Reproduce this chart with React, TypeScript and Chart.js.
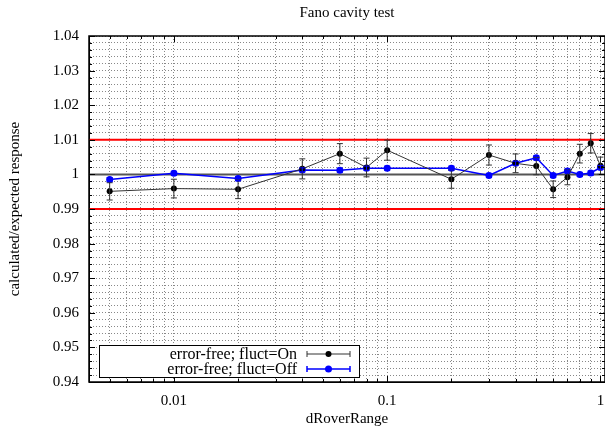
import React, { useEffect, useRef } from 'react';
import { Chart, registerables } from 'chart.js';

Chart.register(...registerables);

const TITLE = 'Fano cavity test';
const X_TITLE = 'dRoverRange';
const Y_TITLE = 'calculated/expected response';

const X_VALUES = [0.005, 0.01, 0.02, 0.04, 0.06, 0.08, 0.1, 0.2, 0.3, 0.4, 0.5, 0.6, 0.7, 0.8, 0.9, 1.0];

const ON_LABEL = 'error-free; fluct=On';
const ON_VALUES = [0.9951, 0.9959, 0.9957, 1.0016, 1.006, 1.002, 1.007, 0.9986, 1.0056, 1.0032, 1.0024, 0.9957, 0.9992, 1.006, 1.009, 1.0025];
const ON_ERRORS = [0.0025, 0.0027, 0.0027, 0.0029, 0.0029, 0.0027, 0.0029, 0.0026, 0.0029, 0.0027, 0.0025, 0.0024, 0.0022, 0.0027, 0.0028, 0.0025];

const OFF_LABEL = 'error-free; fluct=Off';
const OFF_VALUES = [0.9985, 1.0003, 0.9988, 1.0013, 1.0012, 1.0018, 1.0018, 1.0018, 0.9997, 1.0032, 1.0048, 0.9997, 1.001, 1.0, 1.0004, 1.002];
const OFF_ERRORS = [0.0006, 0.0006, 0.0006, 0.0006, 0.0006, 0.0006, 0.0006, 0.0006, 0.0006, 0.0006, 0.0006, 0.0006, 0.0006, 0.0006, 0.0006, 0.0006];

const X_MIN = 0.004;
const X_MAX = 1.05;
const X_TICKS = [
  0.004, 0.005, 0.006, 0.007, 0.008, 0.009,
  0.01, 0.02, 0.03, 0.04, 0.05, 0.06, 0.07, 0.08, 0.09,
  0.1, 0.2, 0.3, 0.4, 0.5, 0.6, 0.7, 0.8, 0.9,
  1,
];
const X_MAJOR = [0.01, 0.1, 1];

const Y_MIN = 0.94;
const Y_MAX = 1.04;
const Y_MINOR_STEP = 0.002;

const RED_LIMITS = [0.99, 1.01];
const UNITY = [1.0];

const FONT = 'Liberation Serif';

function yTicks() {
  const out: number[] = [];
  const n = Math.round((Y_MAX - Y_MIN) / Y_MINOR_STEP);
  for (let i = 0; i <= n; i++) out.push(Math.round((Y_MIN + i * Y_MINOR_STEP) * 1000) / 1000);
  return out;
}
function yIsMajor(v: number) {
  return Math.round(v * 1000) % 10 === 0;
}
function yLabel(v: number) {
  return yIsMajor(v) ? String(Math.round(v * 100) / 100) : '';
}

const errorBarPlugin = {
  id: 'errorBars',
  afterDatasetsDraw(chart: any) {
    const ctx = chart.ctx;
    const ys = chart.scales.y;
    chart.data.datasets.forEach((ds: any, di: number) => {
      if (!ds.errors) return;
      const meta = chart.getDatasetMeta(di);
      ctx.save();
      ctx.strokeStyle = ds.borderColor;
      ctx.lineWidth = 1;
      meta.data.forEach((pt: any, i: number) => {
        const v = ds.data[i].y;
        const e = ds.errors[i];
        const y1 = ys.getPixelForValue(v + e);
        const y2 = ys.getPixelForValue(v - e);
        const x = pt.x;
        ctx.beginPath();
        ctx.moveTo(x, y1);
        ctx.lineTo(x, y2);
        ctx.moveTo(x - 3, y1);
        ctx.lineTo(x + 3, y1);
        ctx.moveTo(x - 3, y2);
        ctx.lineTo(x + 3, y2);
        ctx.stroke();
      });
      ctx.restore();
    });
  },
};

const refLinesPlugin = {
  id: 'refLines',
  beforeDatasetsDraw(chart: any) {
    const { ctx, chartArea } = chart;
    const ys = chart.scales.y;
    ctx.save();
    ctx.setLineDash([]);
    ctx.lineWidth = 2;
    ctx.strokeStyle = '#ff0000';
    RED_LIMITS.forEach((v) => {
      const y = ys.getPixelForValue(v);
      ctx.beginPath();
      ctx.moveTo(chartArea.left, y);
      ctx.lineTo(chartArea.right, y);
      ctx.stroke();
    });
    ctx.strokeStyle = '#555555';
    UNITY.forEach((v) => {
      const y = ys.getPixelForValue(v);
      ctx.beginPath();
      ctx.moveTo(chartArea.left, y);
      ctx.lineTo(chartArea.right, y);
      ctx.stroke();
    });
    ctx.restore();
  },
};

const framePlugin = {
  id: 'frame',
  afterDraw(chart: any) {
    const { ctx, chartArea } = chart;
    const { left, right, top, bottom } = chartArea;
    const xs = chart.scales.x;
    const ys = chart.scales.y;
    ctx.save();
    ctx.setLineDash([]);
    ctx.strokeStyle = '#000';
    ctx.lineWidth = 1;
    ctx.beginPath();
    xs.ticks.forEach((t: any) => {
      const x = Math.round(xs.getPixelForValue(t.value)) + 0.5;
      const len = X_MAJOR.includes(t.value) ? 6 : 3;
      ctx.moveTo(x, bottom);
      ctx.lineTo(x, bottom - len);
      ctx.moveTo(x, top);
      ctx.lineTo(x, top + len);
    });
    ys.ticks.forEach((t: any) => {
      const y = Math.round(ys.getPixelForValue(t.value)) + 0.5;
      const len = yIsMajor(t.value) ? 6 : 3;
      ctx.moveTo(left, y);
      ctx.lineTo(left + len, y);
      ctx.moveTo(right, y);
      ctx.lineTo(right - len, y);
    });
    ctx.stroke();
    ctx.lineWidth = 1.5;
    ctx.strokeRect(left, top, right - left, bottom - top);

    // title
    ctx.fillStyle = '#000';
    ctx.font = `15px "${FONT}"`;
    ctx.textAlign = 'center';
    ctx.textBaseline = 'middle';
    ctx.fillText(TITLE, 347, 13);

    // legend
    const bx = left + 10;
    const bw = 260;
    const bh = 32;
    const by = bottom - 5 - bh;
    ctx.fillStyle = '#fff';
    ctx.fillRect(bx, by, bw, bh);
    ctx.lineWidth = 1;
    ctx.strokeStyle = '#000';
    ctx.strokeRect(bx + 0.5, by + 0.5, bw, bh);
    chart.data.datasets.forEach((ds: any, i: number) => {
      if (!ds.errors) return;
      const ry = by + 9 + i * 15;
      ctx.fillStyle = '#000';
      ctx.font = `16px "${FONT}"`;
      ctx.textAlign = 'right';
      ctx.textBaseline = 'middle';
      ctx.fillText(ds.label, bx + 198, ry + 1);
      const x1 = bx + 208;
      const x2 = bx + 251;
      ctx.strokeStyle = ds.borderColor;
      ctx.lineWidth = ds.borderWidth;
      ctx.beginPath();
      ctx.moveTo(x1, ry);
      ctx.lineTo(x2, ry);
      ctx.moveTo(x1, ry - 3);
      ctx.lineTo(x1, ry + 3);
      ctx.moveTo(x2, ry - 3);
      ctx.lineTo(x2, ry + 3);
      ctx.stroke();
      ctx.fillStyle = ds.pointBackgroundColor;
      ctx.beginPath();
      ctx.arc((x1 + x2) / 2, ry, ds.pointRadius, 0, Math.PI * 2);
      ctx.fill();
    });
    ctx.restore();
  },
};

export default function App() {
  const ref = useRef<HTMLCanvasElement | null>(null);
  useEffect(() => {
    if (!ref.current) return;
    const chart = new Chart(ref.current, {
      type: 'line',
      data: {
        datasets: [
          {
            label: ON_LABEL,
            data: X_VALUES.map((x, i) => ({ x, y: ON_VALUES[i] })),
            errors: ON_ERRORS,
            borderColor: '#333333',
            borderWidth: 1,
            pointRadius: 3,
            pointBackgroundColor: '#000000',
            pointBorderWidth: 0,
            tension: 0,
          } as any,
          {
            label: OFF_LABEL,
            data: X_VALUES.map((x, i) => ({ x, y: OFF_VALUES[i] })),
            errors: OFF_ERRORS,
            borderColor: '#0000ff',
            borderWidth: 1.5,
            pointRadius: 3.5,
            pointBackgroundColor: '#0000ff',
            pointBorderWidth: 0,
            tension: 0,
          } as any,
        ],
      },
      options: {
        animation: false,
        responsive: false,
        maintainAspectRatio: false,
        layout: { padding: { top: 36, right: 1, left: 0, bottom: 0 } },
        plugins: {
          legend: { display: false },
          title: { display: false },
          tooltip: { enabled: false },
        },
        scales: {
          x: {
            type: 'logarithmic',
            min: X_MIN,
            max: X_MAX,
            afterBuildTicks: (s: any) => {
              s.ticks = X_TICKS.map((v) => ({ value: v }));
            },
            afterFit: (s: any) => {
              s.height = 48;
            },
            ticks: {
              autoSkip: false,
              maxRotation: 0,
              minRotation: 0,
              padding: 0,
              color: '#000',
              font: { family: FONT, size: 15 },
              callback: (v: any) => (X_MAJOR.includes(v) ? String(v) : ''),
            },
            grid: { color: '#888', lineWidth: 1, drawTicks: true, tickLength: 10, tickColor: 'rgba(0,0,0,0)' },
            border: { display: true, color: '#000', width: 1, dash: [1, 2] },
            title: {
              display: true,
              text: X_TITLE,
              color: '#000',
              font: { family: FONT, size: 15 },
              padding: { top: 0, bottom: 2 },
            },
          },
          y: {
            type: 'linear',
            min: Y_MIN,
            max: Y_MAX,
            afterBuildTicks: (s: any) => {
              s.ticks = yTicks().map((v) => ({ value: v }));
            },
            afterFit: (s: any) => {
              s.width = 89;
            },
            ticks: {
              autoSkip: false,
              padding: 0,
              color: '#000',
              font: { family: FONT, size: 15 },
              callback: (v: any) => yLabel(v),
            },
            grid: { color: '#888', lineWidth: 1, drawTicks: true, tickLength: 10, tickColor: 'rgba(0,0,0,0)' },
            border: { display: true, color: '#000', width: 1, dash: [1, 2] },
            title: {
              display: true,
              text: Y_TITLE,
              color: '#000',
              font: { family: FONT, size: 15 },
              padding: { top: 6, bottom: 0 },
            },
          },
        },
      } as any,
      plugins: [refLinesPlugin, errorBarPlugin, framePlugin],
    });
    return () => chart.destroy();
  }, []);
  return (
    <div style={{ position: 'fixed', left: 0, top: 0, width: 605, height: 430, overflow: 'hidden', background: '#fff' }}>
      <canvas ref={ref} width={609} height={430} style={{ width: 609, height: 430, display: 'block' }} />
    </div>
  );
}
